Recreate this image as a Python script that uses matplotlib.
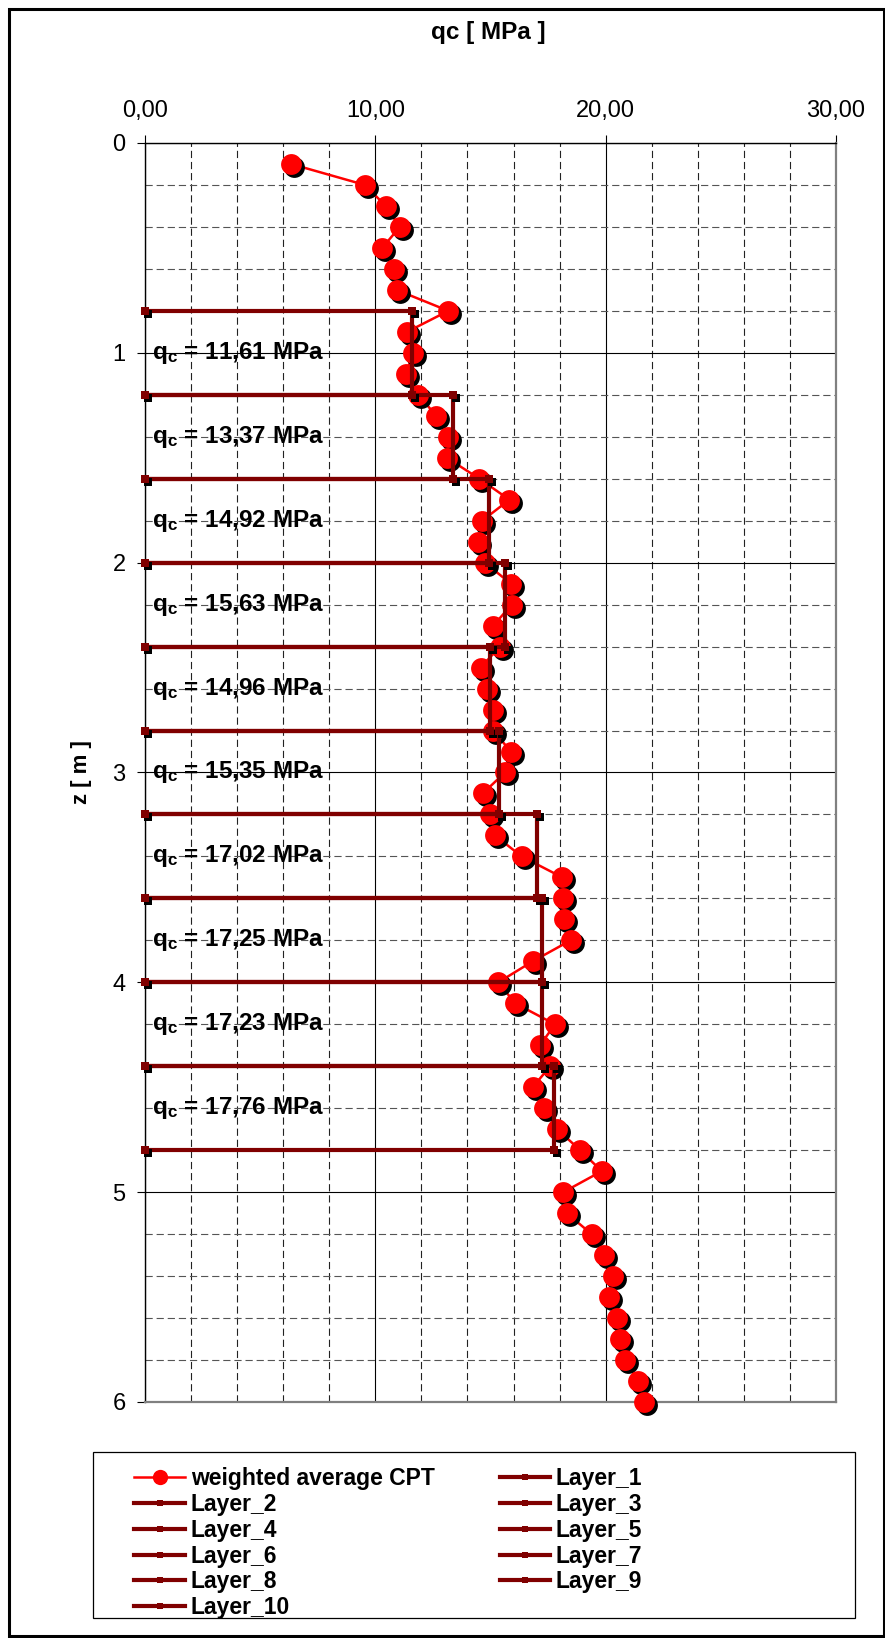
import matplotlib
matplotlib.use("Agg")
import matplotlib.pyplot as plt
from matplotlib.lines import Line2D
from matplotlib.patches import Rectangle
from matplotlib.transforms import ScaledTranslation
from matplotlib.ticker import MultipleLocator, FuncFormatter

plt.rcParams['font.family'] = ['Liberation Sans', 'DejaVu Sans']
plt.rcParams['mathtext.fontset'] = 'custom'
plt.rcParams['mathtext.rm'] = 'Liberation Sans'
plt.rcParams['mathtext.bf'] = 'Liberation Sans:bold'

# CPT profile (weighted average) - depth z [m], qc [MPa]
z_cpt = [0.1, 0.2, 0.3, 0.4, 0.5, 0.6, 0.7, 0.8, 0.9, 1.0,
         1.1, 1.2, 1.3, 1.4, 1.5, 1.6, 1.7, 1.8, 1.9, 2.0,
         2.1, 2.2, 2.3, 2.4, 2.5, 2.6, 2.7, 2.8, 2.9, 3.0,
         3.1, 3.2, 3.3, 3.4, 3.5, 3.6, 3.7, 3.8, 3.9, 4.0,
         4.1, 4.2, 4.3, 4.4, 4.5, 4.6, 4.7, 4.8, 4.9, 5.0,
         5.1, 5.2, 5.3, 5.4, 5.5, 5.6, 5.7, 5.8, 5.9, 6.0]
qc_cpt = [6.34, 9.55, 10.45, 11.06, 10.30, 10.80, 10.92, 13.17, 11.38, 11.65,
          11.33, 11.87, 12.64, 13.17, 13.10, 14.52, 15.82, 14.64, 14.47, 14.76,
          15.88, 15.92, 15.12, 15.41, 14.57, 14.83, 15.12, 15.12, 15.88, 15.63,
          14.66, 15.00, 15.20, 16.35, 18.12, 18.16, 18.19, 18.48, 16.83, 15.34,
          16.07, 17.80, 17.15, 17.59, 16.83, 17.33, 17.90, 18.89, 19.83, 18.16,
          18.31, 19.39, 19.93, 20.34, 20.16, 20.48, 20.63, 20.84, 21.42, 21.67]

# layers: top, bottom, average qc
layer_names = ['Layer_1', 'Layer_2', 'Layer_3', 'Layer_4', 'Layer_5',
               'Layer_6', 'Layer_7', 'Layer_8', 'Layer_9', 'Layer_10']
layer_top = [0.8, 1.2, 1.6, 2.0, 2.4, 2.8, 3.2, 3.6, 4.0, 4.4]
layer_bot = [1.2, 1.6, 2.0, 2.4, 2.8, 3.2, 3.6, 4.0, 4.4, 4.8]
layer_qc = [11.61, 13.37, 14.92, 15.63, 14.96, 15.35, 17.02, 17.25, 17.23, 17.76]

RED = '#ff0000'
DARK = '#800000'
W, H = 885, 1638

fig = plt.figure(figsize=(W / 100, H / 100), dpi=100)
ax = fig.add_axes([145 / W, 1 - 1402 / H, 691 / W, 1259 / H])

shadow = ax.transData + ScaledTranslation(0.03, -0.03, fig.dpi_scale_trans)

# CPT
ax.plot(qc_cpt, z_cpt, '-', color=RED, lw=1.8, zorder=3, clip_on=False)
ax.plot(qc_cpt, z_cpt, 'o', color='black', ms=15, mew=0, zorder=4,
        clip_on=False, transform=shadow)
ax.plot(qc_cpt, z_cpt, 'o', color=RED, ms=15, mew=0, zorder=5, clip_on=False)

# layers
for i in range(len(layer_qc)):
    xs = [0, layer_qc[i], layer_qc[i], 0]
    zs = [layer_top[i], layer_top[i], layer_bot[i], layer_bot[i]]
    ax.plot(xs, zs, '-', color=DARK, lw=3, zorder=6, clip_on=False)
    ax.plot(xs, zs, 's', color='black', ms=6, mew=0, zorder=7,
            clip_on=False, transform=shadow)
    ax.plot(xs, zs, 's', color=DARK, ms=6, mew=0, zorder=8, clip_on=False)
    zm = (layer_top[i] + layer_bot[i]) / 2
    ax.text(0.3, zm, r'$\mathbf{q_c}$ = ' + f'{layer_qc[i]:.2f}'.replace('.', ',') + ' MPa',
            fontsize=17.5, fontweight='bold', va='center', ha='left', zorder=9)

ax.set_xlim(0, 30)
ax.set_ylim(6, 0)
ax.xaxis.set_major_locator(MultipleLocator(10))
ax.xaxis.set_minor_locator(MultipleLocator(2))
ax.yaxis.set_major_locator(MultipleLocator(1))
ax.yaxis.set_minor_locator(MultipleLocator(0.2))
ax.xaxis.set_major_formatter(FuncFormatter(lambda v, p: f'{v:.2f}'.replace('.', ',')))
ax.yaxis.set_major_formatter(FuncFormatter(lambda v, p: f'{v:.0f}'))
ax.xaxis.tick_top()
ax.tick_params(which='major', direction='out', length=6, width=0.8, labelsize=17, color='black')
ax.tick_params(axis='x', pad=9)
ax.tick_params(axis='y', pad=8)
ax.tick_params(which='minor', length=0)

ax.grid(which='major', color='black', lw=0.8, ls='-')
ax.grid(which='minor', axis='x', color='#222222', lw=0.8, dashes=(6.5, 3.5))
ax.grid(which='minor', axis='y', color='#555555', lw=0.8, dashes=(6.5, 3.5))
ax.set_axisbelow(True)

for side in ['left', 'top']:
    ax.spines[side].set_color('black')
    ax.spines[side].set_linewidth(1.0)
for side in ['right', 'bottom']:
    ax.spines[side].set_color('#808080')
    ax.spines[side].set_linewidth(1.6)

fig.text(488 / W, 1 - 33 / H, 'qc [ MPa ]', fontsize=17.5, fontweight='bold',
         ha='center', va='center')
fig.text(82 / W, 1 - 772 / H, 'z [ m ]', fontsize=16, fontweight='bold',
         rotation=90, ha='center', va='center')

# legend, row-major like the original
h_cpt = Line2D([], [], color=RED, lw=1.8, marker='o', ms=11, mew=0)
h_lay = [Line2D([], [], color=DARK, lw=3, marker='s', ms=5, mew=0) for _ in layer_names]
handles = [h_cpt] + [h_lay[k] for k in [1, 3, 5, 7, 9, 0, 2, 4, 6, 8]]
labels = ['weighted average CPT'] + [layer_names[k] for k in [1, 3, 5, 7, 9, 0, 2, 4, 6, 8]]
fig.legend(handles, labels, loc='upper left', bbox_to_anchor=(123 / W, 1 - 1456 / H),
           ncol=2, frameon=False, borderpad=0, handlelength=2.2, handletextpad=0.25,
           columnspacing=2.85, labelspacing=0.12,
           prop={'size': 16.5, 'weight': 'bold'})
fig.patches.append(Rectangle((93 / W, 1 - 1618 / H), 762 / W, 166 / H,
                             transform=fig.transFigure, fill=False,
                             edgecolor='black', lw=0.9))

# outer frame
fig.patches.append(Rectangle((9 / W, 1 - 1636 / H), 875 / W, 1627 / H,
                             transform=fig.transFigure, fill=False,
                             edgecolor='black', lw=2.2))

fig.savefig('out.png', dpi=100)
